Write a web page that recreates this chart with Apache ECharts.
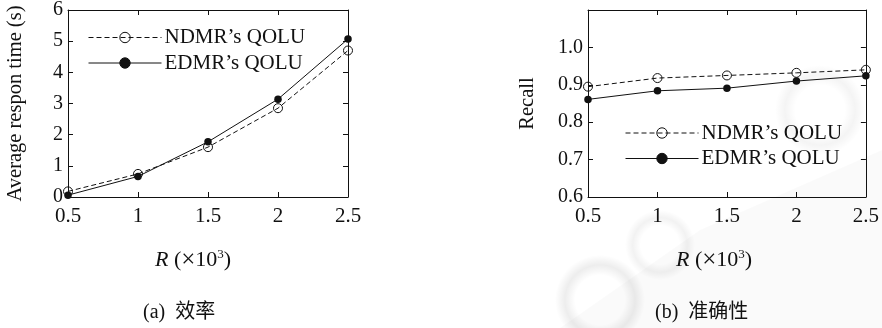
<!DOCTYPE html>
<html>
<head>
<meta charset="utf-8">
<script src="https://cdn.jsdelivr.net/npm/echarts@6/dist/echarts.min.js"></script>
<style>
  html, body { margin: 0; padding: 0; background: #fff; }
  #chart { width: 882px; height: 328px; }
</style>
</head>
<body>
<div id="chart"></div>
<script>
// R values (×10^3) shared by both panels
const rValues = [0.5, 1, 1.5, 2, 2.5];
const xTickLabels = ['0.5', '1', '1.5', '2', '2.5'];

// (a) average response time, seconds
const timeNDMR = [0.18, 0.74, 1.60, 2.85, 4.70];
const timeEDMR = [0.06, 0.66, 1.77, 3.14, 5.07];

// (b) recall
const recallNDMR = [0.895, 0.918, 0.925, 0.932, 0.940];
const recallEDMR = [0.861, 0.884, 0.891, 0.910, 0.924];

const seriesNames = ['NDMR\u2019s QOLU', 'EDMR\u2019s QOLU'];
const captions = ['(a)  效率', '(b)  准确性'];
const yNames = ['Average respon time (s)', 'Recall'];

const SERIF = '"Liberation Serif", "DejaVu Serif", serif';
const CAPTION_FONT = '"Liberation Serif", "Noto Sans CJK SC", serif';
const INK = '#111';

function pairs(ys) { return rValues.map((x, i) => [x, ys[i]]); }

function xAxes(gridIndex) {
  const base = {
    type: 'value', gridIndex, min: 0.5, max: 2.5, interval: 0.5,
    splitLine: { show: false },
    axisLine: { show: true, onZero: false, lineStyle: { color: INK, width: 1 } },
    axisTick: { show: true, inside: true, length: 5, lineStyle: { color: INK } }
  };
  return [
    Object.assign({}, base, {
      position: 'bottom',
      axisLabel: {
        color: INK, fontFamily: SERIF, fontSize: 21, margin: 9,
        formatter: v => xTickLabels[rValues.indexOf(+v.toFixed(1))] || ''
      }
    }),
    Object.assign({}, base, { position: 'top', axisLabel: { show: false } })
  ];
}

function yAxes(gridIndex, min, max, interval, name, nameGap, fmt) {
  const base = {
    type: 'value', gridIndex, min, max, interval,
    splitLine: { show: false },
    axisLine: { show: true, onZero: false, lineStyle: { color: INK, width: 1 } },
    axisTick: { show: true, inside: true, length: 5, lineStyle: { color: INK } }
  };
  return [
    Object.assign({}, base, {
      position: 'left',
      name, nameLocation: 'middle', nameGap,
      nameTextStyle: { color: INK, fontFamily: SERIF, fontSize: 20.5 },
      axisLabel: { color: INK, fontFamily: SERIF, fontSize: 20, margin: 5, formatter: fmt }
    }),
    Object.assign({}, base, { position: 'right', axisLabel: { show: false } })
  ];
}

function lineSeries(name, data, xIdx, yIdx, dashed) {
  return {
    name, type: 'line', xAxisIndex: xIdx, yAxisIndex: yIdx,
    data, symbol: 'circle', symbolSize: dashed ? 9 : 7.5,
    lineStyle: { color: INK, width: 1, type: dashed ? [5, 3] : 'solid' },
    itemStyle: dashed
      ? { color: 'rgba(0,0,0,0)', borderColor: INK, borderWidth: 1 }
      : { color: INK, borderColor: INK, borderWidth: 0 },
    emphasis: { disabled: true },
    animation: false, z: dashed ? 3 : 4
  };
}

function legend(left, top) {
  return {
    orient: 'vertical', left, top, itemWidth: 73, itemHeight: 13, itemGap: 4.5,
    data: seriesNames,
    selectedMode: false,
    lineStyle: { width: 1 },
    itemStyle: { borderWidth: 1 },
    textStyle: { color: INK, fontFamily: SERIF, fontSize: 21, padding: [0, 0, 0, -2] },
    backgroundColor: 'transparent'
  };
}

const timeFmt = v => String(Math.round(v));
const recallFmt = v => (v > 1.05 ? '' : v.toFixed(1));

function axisTitle(left) {
  return {
    type: 'text', left, top: 248, silent: true,
    style: {
      text: '{i|R} ({x|\u00d7}10{s|3})',
      fill: INK,
      rich: {
        i: { fontFamily: SERIF, fontStyle: 'italic', fontSize: 22, fill: INK },
        x: { fontFamily: SERIF, fontSize: 25, fill: INK },
        s: { fontFamily: SERIF, fontSize: 13, fill: INK, verticalAlign: 'top', padding: [0, 0, 11, 0] }
      },
      fontFamily: SERIF, fontSize: 22
    }
  };
}

// soft grey swirls of the page backdrop (bottom right)
function swirl(cx, cy, r, a) {
  return {
    type: 'circle', silent: true, z: -10,
    shape: { cx, cy, r },
    style: {
      fill: {
        type: 'radial', x: 0.5, y: 0.5, r: 0.5,
        colorStops: [
          { offset: 0, color: 'rgba(0,0,0,0)' },
          { offset: 0.55, color: 'rgba(0,0,0,0)' },
          { offset: 0.78, color: 'rgba(0,0,0,' + a + ')' },
          { offset: 1, color: 'rgba(0,0,0,0)' }
        ]
      }
    }
  };
}

const chart = echarts.init(document.getElementById('chart'), null, { renderer: 'canvas' });

chart.setOption({
  backgroundColor: '#fff',
  animation: false,
  grid: [
    { left: 68, top: 10, width: 280, height: 187 },
    { left: 588, top: 10, width: 281, height: 187 }
  ],
  xAxis: [...xAxes(0), ...xAxes(1)],
  yAxis: [
    ...yAxes(0, 0, 6, 1, yNames[0], 42, timeFmt),
    ...yAxes(1, 0.6, 1.1, 0.1, yNames[1], 50, recallFmt)
  ],
  legend: [legend(83, 22), legend(620, 117.5)],
  series: [
    lineSeries(seriesNames[0], pairs(timeNDMR), 0, 0, true),
    lineSeries(seriesNames[1], pairs(timeEDMR), 0, 0, false),
    lineSeries(seriesNames[0], pairs(recallNDMR), 2, 2, true),
    lineSeries(seriesNames[1], pairs(recallEDMR), 2, 2, false)
  ],
  graphic: [
    {
      type: 'polygon', silent: true, z: -11,
      shape: { points: [[560, 328], [700, 230], [882, 150], [882, 328]] },
      style: { fill: 'rgba(0,0,0,0.02)' }
    },
    swirl(600, 300, 45, 0.07),
    swirl(660, 245, 35, 0.05),
    swirl(820, 110, 45, 0.045),
    axisTitle(155),
    axisTitle(676),
    {
      type: 'text', left: 143, top: 303, silent: true,
      style: { text: captions[0], fill: INK, fontFamily: CAPTION_FONT, fontSize: 20 }
    },
    {
      type: 'text', left: 655, top: 303, silent: true,
      style: { text: captions[1], fill: INK, fontFamily: CAPTION_FONT, fontSize: 20 }
    }
  ]
});
</script>
</body>
</html>
